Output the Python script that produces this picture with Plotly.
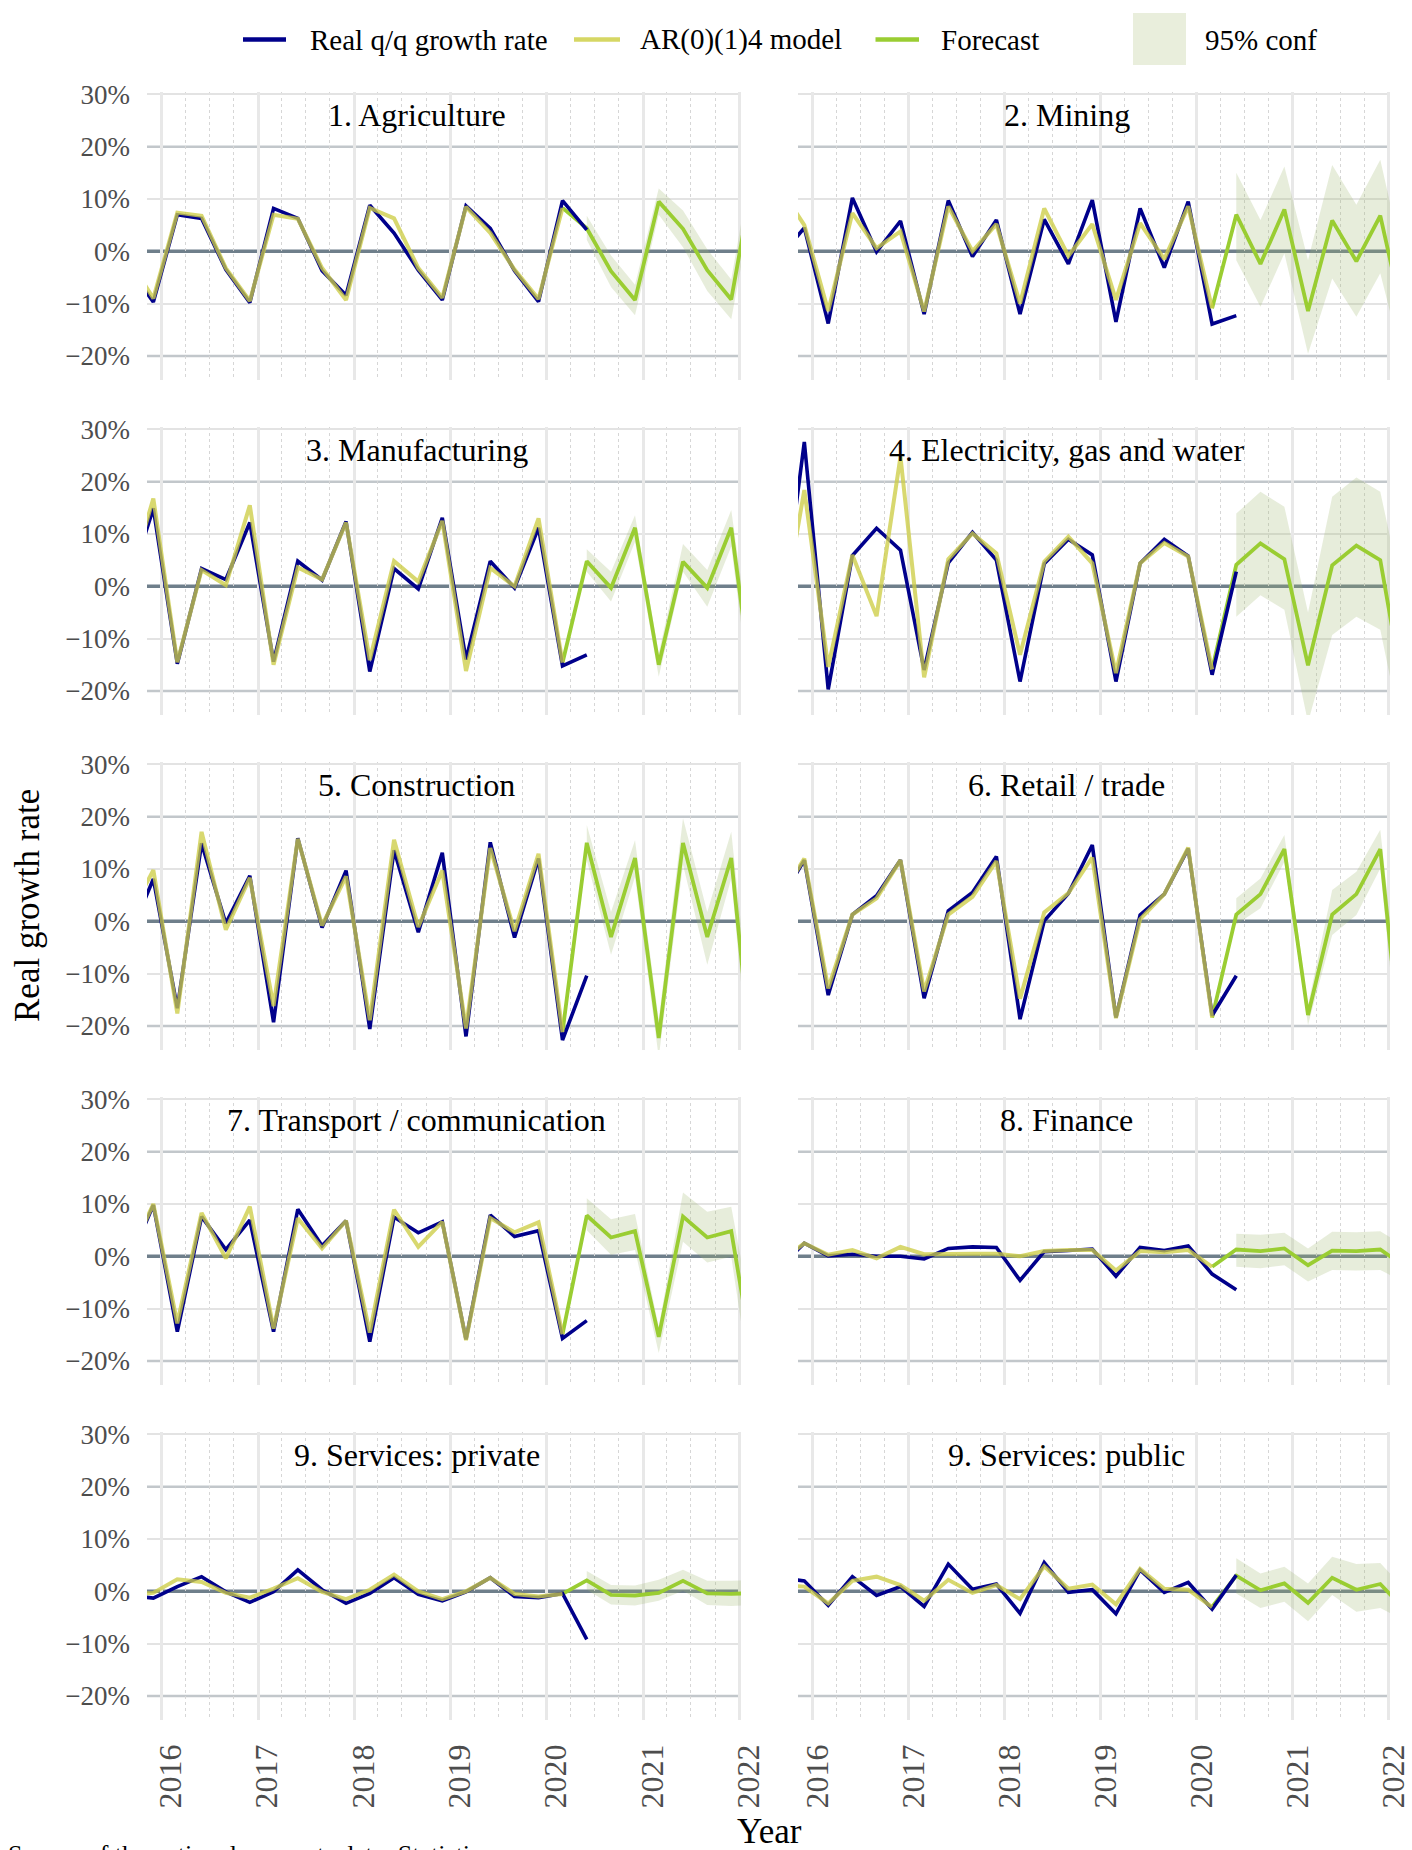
import plotly.graph_objects as go
import pandas as pd

# ---------------- data (percent) ----------------
quarters = pd.date_range("2015-09-01", "2022-03-01", freq="3MS")  # Sep 2015 .. Mar 2022
hist_dates = quarters[:20]      # Sep 2015 .. Jun 2020
model_dates = quarters[:19]     # Sep 2015 .. Mar 2020
fc_dates = quarters[18:27]      # Mar 2020 .. Mar 2022
band_dates = quarters[19:27]    # Jun 2020 .. Mar 2022

titles = ["1. Agriculture", "2. Mining", "3. Manufacturing", "4. Electricity, gas and water",
          "5. Construction", "6. Retail / trade", "7. Transport / communication", "8. Finance",
          "9. Services: private", "9. Services: public"]

real_agri = [-3.2, -9.7, 7.0, 6.3, -3.5, -9.8, 8.2, 6.3, -3.7, -8.4, 8.8, 3.5, -3.6, -9.3, 8.7, 4.4, -3.7, -9.6, 9.7, 4.1]
model_agri = [-1.7, -9.0, 7.4, 6.8, -3.2, -9.5, 7.0, 6.2, -3.2, -9.3, 8.3, 6.3, -3.2, -8.9, 8.5, 3.5, -3.5, -9.1, 8.3]
fc_agri = [8.3, 4.4, -3.8, -9.3, 9.5, 4.3, -3.6, -9.2, 16.0]
lo_agri = [2.2, -6.8, -12.2, 7.0, 0.8, -7.6, -13.0, 11.5]
hi_agri = [6.8, -0.8, -6.4, 12.0, 7.8, 0.4, -5.4, 20.5]

real_mining = [-1.0, 4.5, -13.8, 10.2, -0.1, 5.8, -12.0, 9.7, -1.0, 6.0, -12.0, 6.1, -2.4, 9.8, -13.5, 8.2, -3.1, 9.5, -13.9, -12.3]
model_mining = [12.0, 5.0, -11.4, 7.3, 0.6, 3.8, -11.5, 8.6, 0.0, 5.2, -10.0, 8.2, -0.9, 5.2, -9.3, 5.4, -1.5, 8.6, -10.9]
fc_mining = [-10.9, 7.0, -2.4, 8.0, -11.4, 5.9, -1.9, 6.8, -13.4]
lo_mining = [-1.7, -10.6, -0.4, -19.6, -5.2, -12.5, -4.2, -22.0]
hi_mining = [15.0, 6.0, 16.2, -1.7, 16.5, 8.9, 17.5, -2.5]

real_manu = [0.5, 14.9, -14.8, 3.4, 1.3, 12.2, -14.4, 4.8, 1.2, 12.4, -16.3, 3.4, -0.5, 13.1, -14.0, 4.8, -0.3, 11.2, -15.2, -13.1]
model_manu = [1.0, 16.8, -14.5, 3.1, 0.2, 15.5, -15.0, 3.6, 1.3, 12.2, -14.1, 4.8, 0.9, 12.5, -16.2, 3.5, 0.0, 13.0, -14.6]
fc_manu = [-14.6, 4.8, -0.3, 11.2, -15.0, 4.7, -0.3, 11.2, -23.0]
lo_manu = [2.8, -2.9, 8.5, -17.3, 2.8, -3.9, 7.6, -28.0]
hi_manu = [7.1, 2.8, 13.6, -12.8, 8.1, 3.1, 14.6, -18.0]

real_elec = [-8.0, 27.6, -19.7, 5.9, 11.1, 6.9, -16.0, 4.5, 10.3, 5.0, -18.2, 4.3, 9.0, 6.0, -18.2, 4.4, 9.0, 5.8, -16.9, 2.8]
model_elec = [-8.0, 18.4, -15.4, 6.0, -5.7, 24.8, -17.4, 5.2, 10.1, 6.3, -13.1, 4.7, 9.5, 4.4, -16.6, 4.4, 8.3, 5.7, -15.9]
fc_elec = [-15.9, 4.1, 8.2, 5.2, -15.1, 4.0, 7.8, 5.0, -20.7]
lo_elec = [-5.8, -1.7, -4.5, -26.0, -9.3, -5.8, -8.3, -30.0]
hi_elec = [13.9, 18.1, 15.2, -5.0, 17.1, 20.8, 18.1, -3.0]

real_cons = [-3.0, 8.1, -16.6, 14.9, -0.4, 8.7, -19.3, 15.9, -1.2, 9.7, -20.6, 13.6, -2.1, 13.1, -22.0, 15.1, -3.1, 12.0, -22.7, -10.4]
model_cons = [1.0, 9.8, -17.6, 17.1, -1.6, 8.3, -16.2, 15.8, -0.8, 8.6, -18.9, 15.6, -1.1, 9.7, -20.5, 14.0, -1.9, 12.9, -21.2]
fc_cons = [-21.2, 15.0, -3.0, 12.1, -22.3, 15.0, -3.0, 12.1, -33.0]
lo_cons = [11.7, -6.4, 8.5, -26.0, 10.8, -8.3, 8.2, -40.0]
hi_cons = [18.4, 1.8, 15.5, -18.8, 19.7, 1.8, 17.1, -26.0]

real_retail = [4.0, 11.7, -14.1, 1.3, 4.9, 11.7, -14.7, 2.0, 5.5, 12.4, -18.7, 0.1, 5.3, 14.6, -18.4, 1.2, 5.2, 13.9, -18.0, -10.4]
model_retail = [4.5, 12.0, -12.8, 1.3, 4.4, 11.7, -13.4, 1.3, 4.7, 11.5, -14.8, 1.7, 5.4, 12.2, -18.5, 0.4, 5.2, 14.1, -18.4]
fc_retail = [-18.4, 1.3, 5.2, 13.8, -17.9, 1.3, 5.2, 13.8, -30.0]
lo_retail = [-0.6, 2.5, 11.4, -19.8, -2.6, 1.2, 10.1, -36.0]
hi_retail = [4.4, 8.2, 16.5, -16.0, 6.0, 9.5, 17.5, -24.0]

real_trans = [-1.0, 9.8, -14.4, 7.6, 1.3, 6.9, -14.4, 9.0, 2.0, 6.8, -16.3, 7.5, 4.5, 6.6, -15.9, 7.9, 3.8, 4.9, -15.7, -12.3]
model_trans = [0.0, 10.0, -12.8, 8.3, -0.4, 9.5, -13.8, 7.3, 1.5, 6.8, -14.6, 8.9, 1.8, 6.6, -16.0, 7.3, 4.6, 6.5, -14.9]
fc_trans = [-14.9, 7.8, 3.6, 4.8, -15.4, 7.6, 3.6, 4.8, -22.0]
lo_trans = [5.0, 0.3, 1.2, -18.5, 2.8, -1.2, -0.1, -30.0]
hi_trans = [11.1, 7.1, 8.1, -13.4, 12.2, 8.5, 9.5, -15.0]

real_fin = [-2.0, 2.5, 0.1, 0.4, 0.0, 0.0, -0.5, 1.5, 1.8, 1.7, -4.6, 0.9, 1.1, 1.4, -3.8, 1.7, 1.1, 2.0, -3.4, -6.4]
model_fin = [-1.0, 2.5, 0.3, 1.2, -0.4, 1.8, 0.4, 0.5, 0.5, 0.5, 0.0, 1.0, 1.2, 1.2, -2.7, 1.0, 0.8, 1.2, -2.0]
fc_fin = [-2.0, 1.3, 1.0, 1.5, -1.7, 1.1, 1.0, 1.3, -1.8]
lo_fin = [-2.0, -2.3, -1.7, -4.8, -2.6, -2.7, -2.6, -5.0]
hi_fin = [4.3, 4.1, 4.5, 1.5, 4.7, 4.6, 4.8, 2.0]

real_priv = [-0.8, -1.3, 0.9, 2.8, -0.1, -2.1, -0.1, 4.1, 0.3, -2.3, -0.4, 2.6, -0.6, -1.8, -0.1, 2.6, -1.0, -1.2, -0.4, -9.2]
model_priv = [-0.5, -0.3, 2.3, 1.8, -0.3, -1.2, 0.5, 2.5, -0.1, -1.5, 0.3, 3.2, 0.0, -1.5, 0.0, 2.6, -0.5, -1.0, -0.5]
fc_priv = [-0.5, 2.1, -0.7, -0.8, -0.3, 2.0, -0.4, -0.5, -0.3]
lo_priv = [0.3, -2.5, -2.7, -1.8, 0.1, -2.6, -2.8, -2.6]
hi_priv = [3.9, 1.2, 1.1, 2.2, 4.1, 2.0, 2.0, 2.2]

real_pub = [2.5, 2.0, -2.7, 2.8, -0.8, 0.9, -2.9, 5.2, 0.4, 1.4, -4.2, 5.5, -0.2, 0.3, -4.3, 4.1, -0.2, 1.7, -3.4, 3.1]
model_pub = [1.2, 0.9, -2.3, 2.0, 2.8, 1.2, -1.8, 2.2, -0.3, 1.2, -1.5, 4.8, 0.5, 1.3, -2.5, 4.3, 0.5, 0.3, -3.0]
fc_pub = [-3.0, 3.0, 0.2, 1.5, -2.2, 2.6, 0.3, 1.4, -3.4]
lo_pub = [-0.4, -3.2, -2.0, -5.7, -0.7, -3.9, -3.2, -5.5]
hi_pub = [6.3, 3.4, 4.7, 1.5, 6.6, 5.2, 5.4, 0.5]

real_all = [real_agri, real_mining, real_manu, real_elec, real_cons, real_retail, real_trans, real_fin, real_priv, real_pub]
model_all = [model_agri, model_mining, model_manu, model_elec, model_cons, model_retail, model_trans, model_fin, model_priv, model_pub]
fc_all = [fc_agri, fc_mining, fc_manu, fc_elec, fc_cons, fc_retail, fc_trans, fc_fin, fc_priv, fc_pub]
lo_all = [lo_agri, lo_mining, lo_manu, lo_elec, lo_cons, lo_retail, lo_trans, lo_fin, lo_priv, lo_pub]
hi_all = [hi_agri, hi_mining, hi_manu, hi_elec, hi_cons, hi_retail, hi_trans, hi_fin, hi_priv, hi_pub]

y_ticks = [-20, -10, 0, 10, 20, 30]
y_tick_text = ["\u221220%", "\u221210%", "0%", "10%", "20%", "30%"]
y_light_grid = [-10, 10, 30]
ref_lines = [0, 20, -20]
legend_labels = ["Real q/q growth rate", "AR(0)(1)4 model", "Forecast", "95% conf"]

# ---------------- style ----------------
W, H = 1412, 1850
FONT = "Liberation Serif"
BLUE = "#00008B"
YELLOW = "rgba(205,205,70,0.78)"
YELLOW_LEG = "#d6d764"
GREEN = "#9ACD32"
BAND = "rgba(160,185,110,0.25)"
BAND_LEG = "#e9eedc"
TICK_COL = "#4d4d4d"
REF_STYLE = {0: ("#6f7f8b", 3.5), 20: ("#c2c7cb", 2.5), -20: ("#c2c7cb", 2.5)}


def px_x(v):
    return v / W


def px_y(v):
    return 1 - v / H


col_x = [(147, 741), (798, 1390)]
col_label_shift = [9, 5]
row_top0, row_bot0, row_step = 92.3, 380.0, 335.0
x_range = ["2015-11-07", "2022-01-07"]
y_range = [-24.6, 30.4]

fig = go.Figure()
shapes = []
annotations = []

for i in range(10):
    r, c = divmod(i, 2)
    n = "" if i == 0 else str(i + 1)
    xa, ya = "x" + n, "y" + n

    band_x = list(band_dates) + list(band_dates[::-1])
    band_y = list(hi_all[i]) + list(lo_all[i][::-1])
    fig.add_trace(go.Scatter(x=band_x, y=band_y, fill="toself", fillcolor=BAND,
                             line=dict(width=0), mode="lines", hoverinfo="skip",
                             showlegend=False, xaxis=xa, yaxis=ya))
    fig.add_trace(go.Scatter(x=fc_dates, y=fc_all[i], mode="lines",
                             line=dict(color=GREEN, width=3.8), showlegend=False,
                             xaxis=xa, yaxis=ya))
    fig.add_trace(go.Scatter(x=hist_dates, y=real_all[i], mode="lines",
                             line=dict(color=BLUE, width=3.6), showlegend=False,
                             xaxis=xa, yaxis=ya))
    fig.add_trace(go.Scatter(x=model_dates, y=model_all[i], mode="lines",
                             line=dict(color=YELLOW, width=4.0), showlegend=False,
                             xaxis=xa, yaxis=ya))

    x0, x1 = col_x[c]
    top = row_top0 + row_step * r
    bot = row_bot0 + row_step * r
    xaxis = dict(
        domain=[px_x(x0), px_x(x1)], anchor=ya, type="date", range=x_range,
        automargin=False,
        dtick="M12", tick0="2016-01-01", tickformat="%Y",
        showgrid=True, gridcolor="#e8e8e8", gridwidth=2.5,
        minor=dict(dtick="M3", tick0="2016-01-01", showgrid=True, griddash="dot",
                   gridcolor="#d6d6d6", gridwidth=1),
        showline=False, zeroline=False, ticks="",
        showticklabels=(r == 4), tickangle=-90,
        tickfont=dict(family=FONT, size=32, color=TICK_COL),
        ticklabelstandoff=17, ticklabelshift=col_label_shift[c], ticklabeloverflow="allow",
    )
    yaxis = dict(
        domain=[px_y(bot), px_y(top)], anchor=xa, range=y_range,
        automargin=False,
        tickmode="array", tickvals=y_ticks, ticktext=y_tick_text,
        showgrid=False,
        minor=dict(tickmode="array", tickvals=y_light_grid, showgrid=True,
                   gridcolor="#e3e3e3", gridwidth=2, ticks=""),
        zeroline=False, showline=False, ticks="",
        showticklabels=(c == 0),
        tickfont=dict(family=FONT, size=27, color=TICK_COL),
        ticklabelstandoff=16,
    )
    fig.update_layout(**{"xaxis" + n: xaxis, "yaxis" + n: yaxis})

    # reference lines at 0 and +-20 (drawn under the traces)
    for yv in ref_lines:
        colr, wd = REF_STYLE[yv]
        shapes.append(dict(type="line", xref=xa + " domain", x0=0, x1=1, yref=ya,
                           y0=yv, y1=yv, line=dict(color=colr, width=wd), layer="below"))

    annotations.append(dict(text=titles[i], xref=xa, yref=ya, x="2018-08-26", y=26,
                            xanchor="center", yanchor="middle", showarrow=False,
                            font=dict(family=FONT, size=32, color="black")))

# legend (drawn manually)
leg_y = px_y(39.5)
for (lx0, lx1), colr in zip([(243, 286), (574, 620), (875.5, 919)], [BLUE, YELLOW_LEG, GREEN]):
    shapes.append(dict(type="line", xref="paper", yref="paper", x0=px_x(lx0), x1=px_x(lx1),
                       y0=leg_y, y1=leg_y, line=dict(color=colr, width=4.5), layer="above"))
shapes.append(dict(type="rect", xref="paper", yref="paper", x0=px_x(1133), x1=px_x(1186),
                   y0=px_y(65), y1=px_y(13), fillcolor=BAND_LEG, line=dict(width=0),
                   layer="above"))
for tx, lab in zip([308, 638, 939, 1203], legend_labels):
    annotations.append(dict(text=lab, xref="paper", yref="paper", x=px_x(tx), y=leg_y,
                            xanchor="left", yanchor="middle", showarrow=False,
                            font=dict(family=FONT, size=29, color="black")))

# axis titles
annotations.append(dict(text="Real growth rate", xref="paper", yref="paper",
                        x=px_x(27), y=px_y(906), textangle=-90, showarrow=False,
                        xanchor="center", yanchor="middle",
                        font=dict(family=FONT, size=35, color="black")))
annotations.append(dict(text="Year", xref="paper", yref="paper",
                        x=px_x(769), y=px_y(1831), showarrow=False,
                        xanchor="center", yanchor="middle",
                        font=dict(family=FONT, size=35, color="black")))
annotations.append(dict(text="Source of the national accounts data: Statistics", xref="paper", yref="paper",
                        x=px_x(6), y=px_y(1838), showarrow=False,
                        xanchor="left", yanchor="top",
                        font=dict(family=FONT, size=26, color="black")))

fig.update_layout(
    width=W, height=H, autosize=False,
    margin=dict(l=0, r=0, t=0, b=0, autoexpand=False),
    paper_bgcolor="white", plot_bgcolor="white",
    showlegend=False, shapes=shapes, annotations=annotations,
    font=dict(family=FONT),
)

fig.write_html("out.html", config={"displayModeBar": False},
               post_script="document.body.style.margin='0';document.body.style.overflow='hidden';")
